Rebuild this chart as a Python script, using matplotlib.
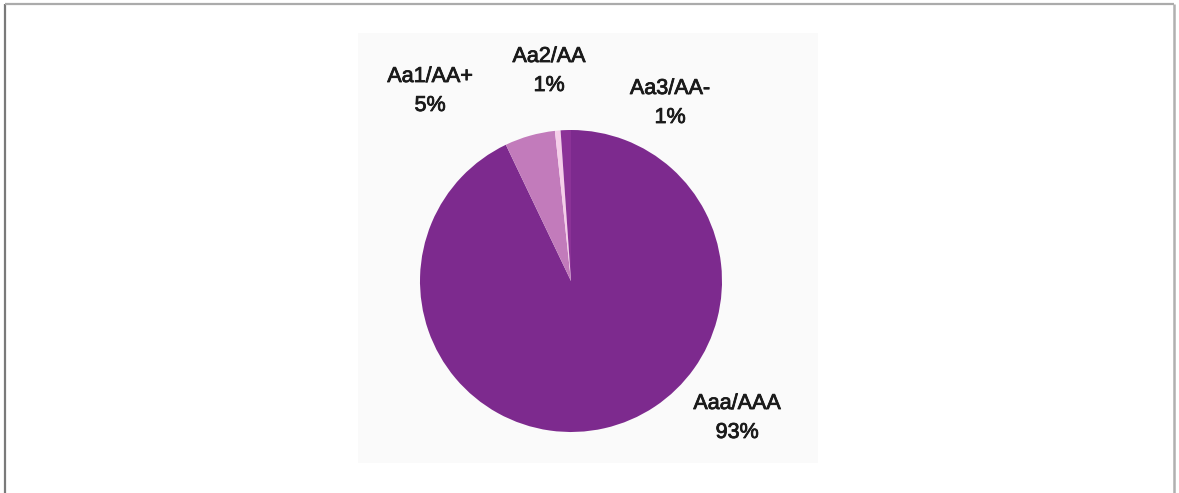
import matplotlib
matplotlib.use("Agg")
import matplotlib.pyplot as plt
import matplotlib.patheffects as pe
from matplotlib.patches import Rectangle

# rating mix (share of portfolio, %)
ratings = ["Aaa/AAA", "Aa1/AA+", "Aa2/AA", "Aa3/AA-"]
shares = [92.9, 5.4, 0.6, 1.1]
colors = ["#7d2a8e", "#c27bbb", "#f5cde9", "#8b3297"]

# label anchor points in pixel space (x, y from top)
label_pos = [(737, 418), (430, 91), (549, 71), (670, 103)]

W, H = 1179, 493
fig = plt.figure(figsize=(W / 100, H / 100), dpi=100)
fig.patch.set_facecolor("white")
ax = fig.add_axes([0, 0, 1, 1])

# faint panel behind the chart
ax.add_patch(Rectangle((358, H - 463), 460, 430, facecolor="#fafafa",
                       edgecolor="none", zorder=0))

ax.pie(shares, colors=colors, startangle=90, counterclock=False,
       center=(571, H - 281), radius=151, frame=True,
       wedgeprops=dict(linewidth=0))
ax.set_xlim(0, W)
ax.set_ylim(0, H)
ax.axis("off")

# frame around the figure (no bottom edge)
ax.plot([4.5, 4.5], [0, H - 3.5], color="#7a7a7a", lw=1.6, solid_capstyle="butt")
ax.plot([4.5, 1174], [H - 4, H - 4], color="#ababab", lw=1.6, solid_capstyle="butt")
ax.plot([1173.5, 1173.5], [0, H - 4], color="#b0b0b0", lw=1.8, solid_capstyle="butt")

for name, val, (x, y) in zip(ratings, shares, label_pos):
    ax.text(x, H - y, f"{name}\n{round(val)}%", ha="center", va="center",
            fontsize=15.5, color="#1a1a1a", linespacing=1.5,
            family=["Liberation Sans Narrow", "Liberation Sans", "DejaVu Sans"],
            path_effects=[pe.withStroke(linewidth=0.6, foreground="#1a1a1a")])

fig.savefig("out.png", dpi=100)
